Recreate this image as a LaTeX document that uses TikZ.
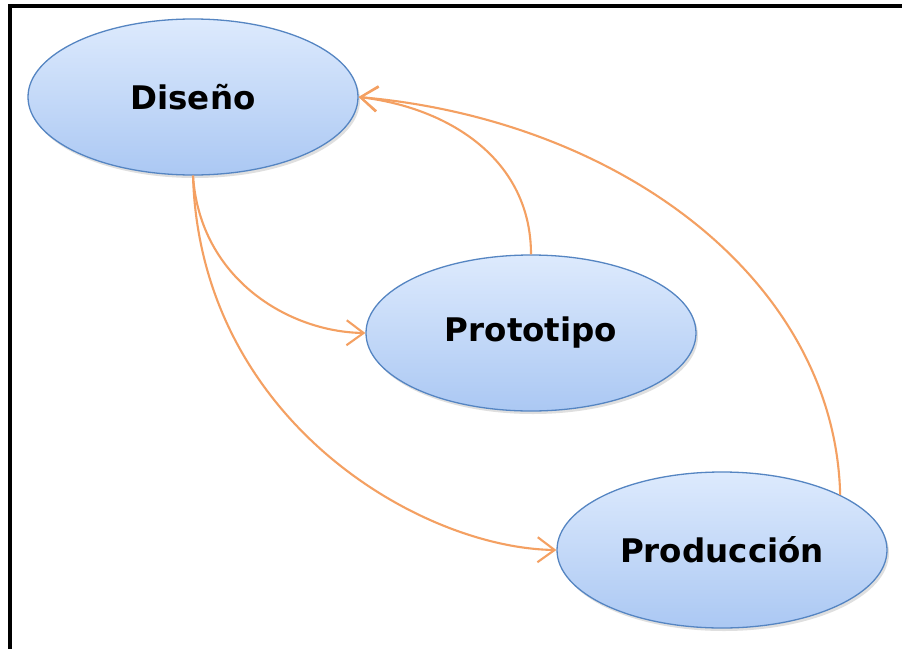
\documentclass[tikz,border=0pt]{standalone}
\usepackage{fontspec}
\setmainfont{DejaVu Sans}
\usetikzlibrary{shapes.geometric,arrows.meta,shadows}
\definecolor{ellborder}{HTML}{5585C2}
\definecolor{elltop}{HTML}{DDEAFD}
\definecolor{ellbot}{HTML}{ABC8F3}
\definecolor{arrowcol}{HTML}{F4A062}
\tikzset{
  stage/.style={ellipse, draw=ellborder, line width=1.3pt, top color=elltop, bottom color=ellbot,
    minimum width=330pt, minimum height=156pt, inner sep=0pt,
    font=\fontsize{32.5}{38}\selectfont\bfseries,
    drop shadow={opacity=0.25, shadow xshift=2pt, shadow yshift=-3pt}},
  flow/.style={draw=arrowcol, line width=2.1pt, -{Straight Barb[length=17pt,width=25pt,line width=2.1pt]}}
}
\begin{document}
\begin{tikzpicture}[x=1pt,y=-1pt]
\useasboundingbox (0,0) rectangle (902,648);
\fill[white] (0,0) rectangle (902,648);
\draw[line width=4pt] (9.5,650) -- (9.5,5.5) -- (904,5.5);
\node[stage] (dis) at (193,97) {Diseño};
\node[stage] (pro) at (531,333) {Prototipo};
\node[stage] (prd) at (722,550) {Producción};
\draw[flow] (dis.south) .. controls (200,280) and (290,332) .. (pro.west);
\draw[flow] (dis.south) .. controls (200,420) and (420,548) .. (prd.west);
\draw[flow] (pro.north) .. controls (531,160) and (450,108) .. (dis.east);
\draw[flow] (prd.25) .. controls (835,280) and (620,120) .. (dis.east);
\end{tikzpicture}
\end{document}
